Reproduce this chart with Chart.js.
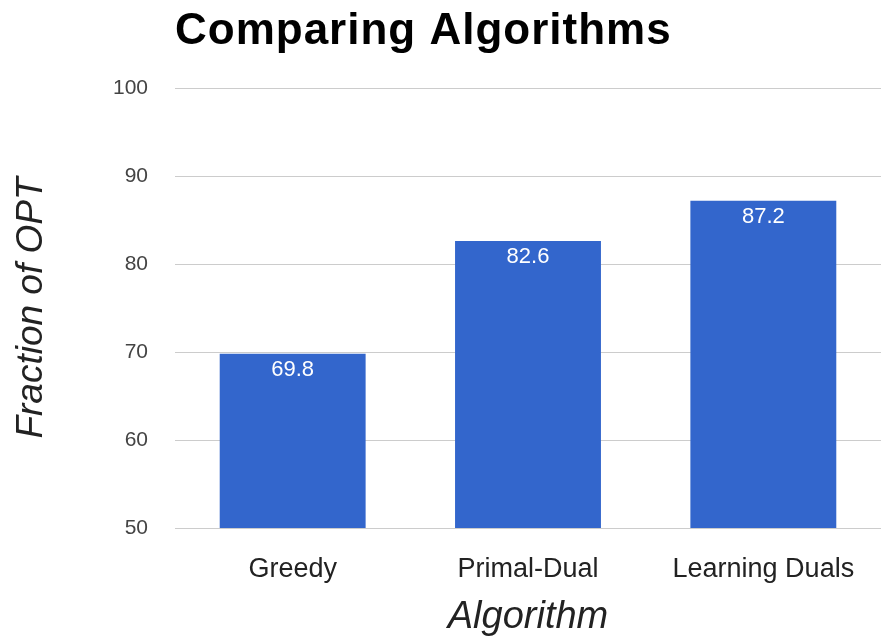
<!DOCTYPE html>
<html>
<head>
<meta charset="utf-8">
<script src="https://cdn.jsdelivr.net/npm/chart.js@4"></script>
<style>
    html, body { margin: 0; padding: 0; background: #fff; }
    #wrap { width: 881px; height: 640px; }
</style>
</head>
<body>
<div id="wrap"><canvas id="myChart"></canvas></div>
<script>
var algorithms = ['Greedy', 'Primal-Dual', 'Learning Duals'];
var fractionOfOpt = [69.8, 82.6, 87.2];
var yTicks = [50, 60, 70, 80, 90, 100];

var FONT = "'Liberation Sans', Arial, sans-serif";

// title sits flush with the left edge of the plot area
const titlePlugin = {
    id: 'leftTitle',
    afterDraw(chart) {
        const ctx = chart.ctx;
        ctx.save();
        ctx.font = 'bold 44px ' + FONT;
        ctx.letterSpacing = '1px';
        ctx.fillStyle = '#000';
        ctx.textAlign = 'left';
        ctx.textBaseline = 'alphabetic';
        ctx.fillText('Comparing Algorithms', chart.chartArea.left, 44);
        ctx.restore();
    }
};

// value printed inside the top of each bar
const barLabels = {
    id: 'barLabels',
    afterDatasetsDraw(chart) {
        const ctx = chart.ctx;
        const meta = chart.getDatasetMeta(0);
        ctx.save();
        ctx.font = '22px ' + FONT;
        ctx.fillStyle = '#fff';
        ctx.textAlign = 'center';
        ctx.textBaseline = 'top';
        meta.data.forEach(function (bar, i) {
            ctx.fillText(fractionOfOpt[i].toFixed(1), bar.x, bar.y + 5);
        });
        ctx.restore();
    }
};

const ctx = document.getElementById('myChart').getContext('2d');
const myChart = new Chart(ctx, {
    type: 'bar',
    data: {
        labels: algorithms,
        datasets: [{
            label: 'Fraction of OPT',
            data: fractionOfOpt,
            backgroundColor: '#3366cc',
            borderWidth: 0,
            categoryPercentage: 1,
            barPercentage: 0.62
        }]
    },
    options: {
        responsive: true,
        maintainAspectRatio: false,
        animation: false,
        layout: { padding: { top: 88, right: 0, bottom: 0, left: 0 } },
        plugins: {
            legend: { display: false },
            tooltip: { enabled: false }
        },
        scales: {
            x: {
                grid: { display: false },
                border: { display: false },
                ticks: {
                    color: '#222',
                    padding: 17,
                    font: { family: FONT, size: 27 }
                },
                title: {
                    display: true,
                    text: 'Algorithm',
                    color: '#222',
                    padding: { top: 0, bottom: 0 },
                    font: { family: FONT, size: 38, style: 'italic' }
                },
                afterFit: function (s) { s.height = 112; }
            },
            y: {
                min: 50,
                max: 100,
                afterBuildTicks: function (s) {
                    s.ticks = yTicks.map(function (v) { return { value: v }; });
                },
                grid: { color: '#cccccc', lineWidth: 1, drawTicks: false },
                border: { display: false },
                ticks: {
                    color: '#444',
                    padding: 27,
                    font: { family: FONT, size: 21 }
                },
                title: {
                    display: true,
                    text: 'Fraction of OPT',
                    color: '#222',
                    padding: { top: 10, bottom: 0 },
                    font: { family: FONT, size: 37, style: 'italic' }
                },
                afterFit: function (s) { s.width = 175; }
            }
        }
    },
    plugins: [titlePlugin, barLabels]
});
</script>
</body>
</html>
